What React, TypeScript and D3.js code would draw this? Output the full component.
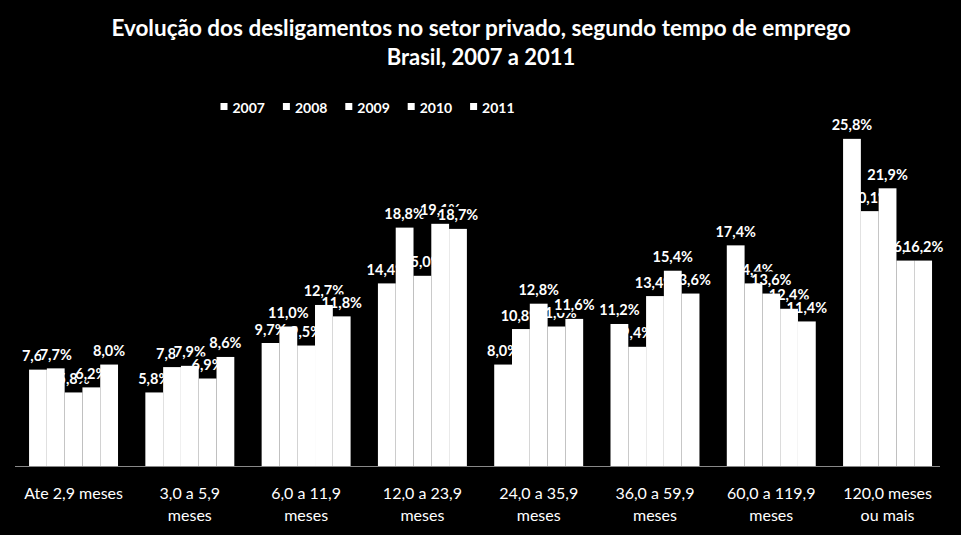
import React from "react";
import * as d3 from "d3";

const categories = [
  "Ate 2,9 meses",
  "3,0 a 5,9\nmeses",
  "6,0 a 11,9\nmeses",
  "12,0 a 23,9\nmeses",
  "24,0 a 35,9\nmeses",
  "36,0 a 59,9\nmeses",
  "60,0 a 119,9\nmeses",
  "120,0 meses\nou mais",
];
const years = ["2007", "2008", "2009", "2010", "2011"];
const v2007 = [7.6, 5.8, 9.7, 14.4, 8.0, 11.2, 17.4, 25.8];
const v2008 = [7.7, 7.8, 11.0, 18.8, 10.8, 9.4, 14.4, 20.1];
const v2009 = [5.8, 7.9, 9.5, 15.0, 12.8, 13.4, 13.6, 21.9];
const v2010 = [6.2, 6.9, 12.7, 19.1, 11.0, 15.4, 12.4, 16.2];
const v2011 = [8.0, 8.6, 11.8, 18.7, 11.6, 13.6, 11.4, 16.2];
const series = [v2007, v2008, v2009, v2010, v2011];
const titleLines = [
  "Evolução dos desligamentos no setor privado, segundo tempo de emprego",
  "Brasil, 2007 a 2011",
];

const W = 961;
const H = 535;
const FONT = "Lato, 'Open Sans', sans-serif";

const fmt = (v: number) => v.toFixed(1).replace(".", ",") + "%";

export default function App() {
  const x0 = d3
    .scaleBand<string>()
    .domain(categories)
    .range([15.4, 945.7])
    .paddingInner(0.235)
    .paddingOuter(0.1175);
  const x1 = d3
    .scaleBand<string>()
    .domain(years)
    .range([0, x0.bandwidth()])
    .padding(0);
  const y = d3.scaleLinear().domain([0, 30]).range([466, 466 - 30 * 12.68]);

  const labelW = (s: string) => s.length * 7.2;

  const labels: React.ReactNode[] = [];
  const bars: React.ReactNode[] = [];
  series.forEach((vals, si) => {
    vals.forEach((v, ci) => {
      const cx = x0(categories[ci])! + x1(years[si])! + x1.bandwidth() / 2;
      const top = y(v);
      const t = fmt(v);
      const w = labelW(t);
      labels.push(
        <g key={`l${si}-${ci}`}>
          <rect x={cx - w / 2} y={top - 22} width={w} height={16} fill="#000" />
          <text
            x={cx}
            y={top - 8.5}
            textAnchor="middle"
            fill="#fff"
            fontSize={14.5}
            fontWeight="bold"
            fontFamily={FONT}
          >
            {t}
          </text>
        </g>
      );
      bars.push(
        <rect
          key={`b${si}-${ci}`}
          x={x0(categories[ci])! + x1(years[si])!}
          y={top}
          width={x1.bandwidth()}
          height={y(0) - top}
          fill="#fff"
        />
      );
    });
  });

  return (
    <svg width={W} height={H} style={{ display: "block", position: "absolute", left: 0, top: 0, background: "#000" }}>
      <rect x={0} y={0} width={W} height={H} fill="#000" />
      {titleLines.map((t, i) => (
        <text
          key={t}
          x={481}
          y={36 + i * 29}
          textAnchor="middle"
          fill="#fff"
          fontSize={i === 0 ? 22.5 : 22}
          fontWeight="bold"
          fontFamily={FONT}
        >
          {t}
        </text>
      ))}
      {years.map((yr, i) => (
        <g key={yr} transform={`translate(${220.5 + i * 62.4},0)`}>
          <rect x={0} y={103} width={7} height={7} fill="#fff" />
          <text x={12} y={113} fill="#fff" fontSize={14} fontWeight="bold" fontFamily={FONT}>
            {yr}
          </text>
        </g>
      ))}
      {labels}
      {bars}
      <line x1={15} x2={940} y1={466.5} y2={466.5} stroke="#888" strokeWidth={1} />
      {categories.map((c) => {
        const cx = x0(c)! + x0.bandwidth() / 2;
        return (
          <text key={c} textAnchor="middle" fill="#fff" fontSize={16} fontFamily={FONT}>
            {c.split("\n").map((ln, i) => (
              <tspan key={i} x={cx} y={499 + i * 22}>
                {ln}
              </tspan>
            ))}
          </text>
        );
      })}
    </svg>
  );
}
